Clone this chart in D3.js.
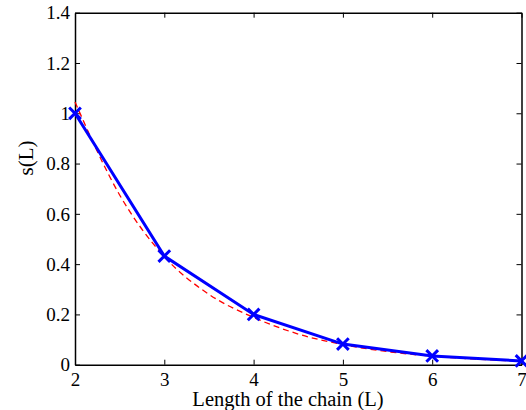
<!DOCTYPE html>
<html><head><meta charset="utf-8">
<script src="https://cdn.jsdelivr.net/npm/d3@7"></script>
<style>body{margin:0;background:#fff}svg{display:block}text{font-family:"Liberation Serif","Times New Roman",serif;fill:#000}</style>
</head><body>
<svg id="c" width="526" height="410"></svg>
<script>
const chainLength = [2, 3, 4, 5, 6, 7];
const sValues = [1.0, 0.432, 0.2, 0.082, 0.035, 0.015];
const fitX = [2, 2.5, 3, 3.5, 4, 4.5, 5, 5.5, 6, 6.5, 7];
const fitValues = [1.045, 0.675, 0.43, 0.28, 0.188, 0.122, 0.08, 0.052, 0.034, 0.022, 0.014];
const xTicks = [2, 3, 4, 5, 6, 7];
const yTicks = [0, 0.2, 0.4, 0.6, 0.8, 1, 1.2, 1.4];

const svg = d3.select("#c");
const L = 75, R = 521.5, T = 12.7, B = 364.7;
const x = d3.scaleLinear().domain([2, 7]).range([L, R]);
const y = d3.scaleLinear().domain([0, 1.4]).range([B, T]);
const fmt = d => d3.format("~g")(d);

const g = svg.append("g");
const gx = g.append("g").attr("transform", `translate(0,${B})`)
  .call(d3.axisBottom(x).tickValues(xTicks).tickSizeInner(-5).tickSizeOuter(0).tickFormat(fmt));
g.append("g").attr("transform", `translate(0,${T})`)
  .call(d3.axisTop(x).tickValues(xTicks).tickSizeInner(-5).tickSizeOuter(0).tickFormat(""));
const gy = g.append("g").attr("transform", `translate(${L},0)`)
  .call(d3.axisLeft(y).tickValues(yTicks).tickSizeInner(-5).tickSizeOuter(0).tickFormat(fmt));
g.append("g").attr("transform", `translate(${R},0)`)
  .call(d3.axisRight(y).tickValues(yTicks).tickSizeInner(-5).tickSizeOuter(0).tickFormat(""));
g.selectAll(".domain").attr("stroke", "#000").attr("stroke-width", 1.5);
g.selectAll(".tick line").attr("stroke", "#000").attr("stroke-width", 1);
g.selectAll(".tick text").attr("font-size", 19).attr("font-family", "Liberation Serif").attr("fill", "#000");
gx.selectAll(".tick text").attr("y", 21).attr("dy", 0);
gy.selectAll(".tick text").attr("x", -5).attr("dy", "0.33em");

// red dashed fit
svg.append("path").datum(fitX.map((v, i) => [v, fitValues[i]]))
  .attr("fill", "none").attr("stroke", "#ff0000").attr("stroke-width", 1.3)
  .attr("stroke-dasharray", "6,4")
  .attr("d", d3.line().x(d => x(d[0])).y(d => y(d[1])).curve(d3.curveMonotoneX));

// blue line with x markers
const pts = chainLength.map((v, i) => [v, sValues[i]]);
svg.append("path").datum(pts)
  .attr("fill", "none").attr("stroke", "#0000ff").attr("stroke-width", 3)
  .attr("d", d3.line().x(d => x(d[0])).y(d => y(d[1])));
const cross = d3.symbol().type(d3.symbolX).size(90);
svg.selectAll(".m").data(pts).join("path")
  .attr("transform", d => `translate(${x(d[0])},${y(d[1])})`)
  .attr("d", cross).attr("fill", "none").attr("stroke", "#0000ff").attr("stroke-width", 3);

// axis titles
svg.append("text").attr("x", 288).attr("y", 406).attr("text-anchor", "middle")
  .attr("font-size", 20.5).text("Length of the chain (L)");
svg.append("text").attr("transform", `translate(33,158) rotate(-90)`).attr("text-anchor", "middle")
  .attr("font-size", 21).text("s(L)");
</script>
</body></html>
